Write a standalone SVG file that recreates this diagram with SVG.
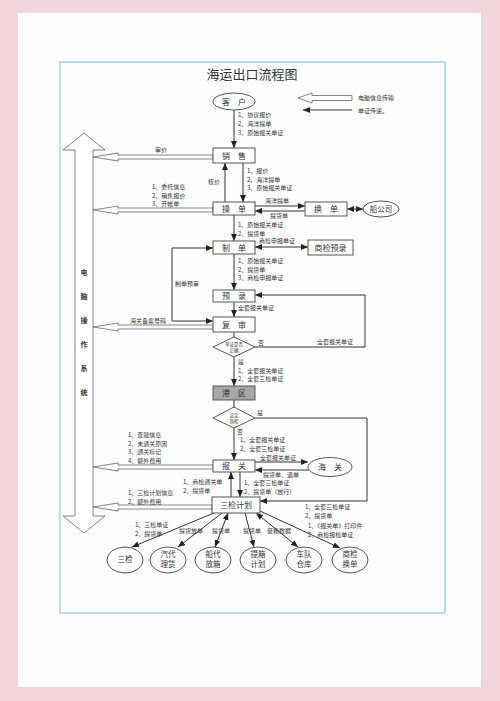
<svg xmlns="http://www.w3.org/2000/svg" width="500" height="701" viewBox="0 0 500 701">
<defs>
<marker id="a" markerUnits="userSpaceOnUse" markerWidth="7" markerHeight="6" refX="7" refY="3" orient="auto-start-reverse"><path d="M0,0 L7,3 L0,6 z" fill="#222"/></marker>
<style>
.t{font-family:"Noto Sans CJK SC","Noto Sans",sans-serif;fill:#333}
.s{font-size:6px}
.b{font-size:8px;text-anchor:middle}
.e{font-size:7.5px;text-anchor:middle}
.box{fill:#fff;stroke:#555;stroke-width:1}
.ln{fill:none;stroke:#333;stroke-width:1}
.ho{fill:#fff;stroke:#666;stroke-width:0.8}
</style>
</defs>
<rect x="0" y="0" width="500" height="701" fill="#f2d4db"/>
<rect x="18" y="13" width="463" height="674" fill="#fefefe"/>
<rect x="60" y="62" width="385" height="551" fill="none" stroke="#a9d2da" stroke-width="1.5"/>
<text class="t" x="252" y="79" font-size="13" text-anchor="middle">海运出口流程图</text>

<g id="legend">
<polygon class="ho" points="298,98 312,93 312,95.5 352,95.5 352,100.5 312,100.5 312,103"/>
<text class="t s" x="358" y="100">电脑信息传输</text>
<line class="ln" x1="352" y1="110" x2="303" y2="110" marker-end="url(#a)"/>
<text class="t s" x="358" y="113">单证传递。</text>
</g>

<g id="system">
<polygon class="ho" points="84,133 105,150 93,150 93,516 105,516 84,533 63,516 75,516 75,150 63,150"/>
<g class="t" font-size="7" font-weight="bold" text-anchor="middle">
<text x="84" y="275">电</text><text x="84" y="299">脑</text><text x="84" y="323">操</text><text x="84" y="347">作</text><text x="84" y="371">系</text><text x="84" y="395">统</text>
</g>
</g>

<g id="connectors">
<line class="ln" x1="234" y1="110" x2="234" y2="148" marker-end="url(#a)"/>
<line class="ln" x1="243" y1="163" x2="243" y2="202" marker-end="url(#a)"/>
<line class="ln" x1="225" y1="202" x2="225" y2="163" marker-end="url(#a)"/>
<line class="ln" x1="255" y1="206" x2="305" y2="206" marker-end="url(#a)"/>
<line class="ln" x1="305" y1="211" x2="255" y2="211" marker-end="url(#a)"/>
<line class="ln" x1="347" y1="209" x2="363" y2="209" marker-start="url(#a)" marker-end="url(#a)"/>
<line class="ln" x1="234" y1="215" x2="234" y2="241" marker-end="url(#a)"/>
<line class="ln" x1="255" y1="247" x2="308" y2="247" marker-start="url(#a)" marker-end="url(#a)"/>
<line class="ln" x1="234" y1="254" x2="234" y2="290" marker-end="url(#a)"/>
<line class="ln" x1="234" y1="302" x2="234" y2="317" marker-end="url(#a)"/>
<path class="ln" d="M213,248 H172 V321 H213" marker-start="url(#a)" marker-end="url(#a)"/>
<line class="ln" x1="234" y1="332" x2="234" y2="337"/>
<path class="ln" d="M255,347 H365 V295 H255" marker-end="url(#a)"/>
<line class="ln" x1="234" y1="357" x2="234" y2="386" marker-end="url(#a)"/>
<line class="ln" x1="234" y1="400" x2="234" y2="407"/>
<path class="ln" d="M255,418 H367 V501 H260" marker-end="url(#a)"/>
<line class="ln" x1="234" y1="428" x2="234" y2="460" marker-end="url(#a)"/>
<line class="ln" x1="255" y1="462" x2="308" y2="462" marker-end="url(#a)"/>
<line class="ln" x1="309" y1="470" x2="255" y2="470" marker-end="url(#a)"/>
<line class="ln" x1="240" y1="472" x2="240" y2="497" marker-end="url(#a)"/>
<line class="ln" x1="231" y1="497" x2="231" y2="472" marker-end="url(#a)"/>
<line class="ln" x1="214" y1="513" x2="132" y2="547" marker-end="url(#a)"/>
<line class="ln" x1="222" y1="513" x2="178" y2="547" marker-end="url(#a)"/>
<line class="ln" x1="228" y1="513" x2="215" y2="547" marker-start="url(#a)" marker-end="url(#a)"/>
<line class="ln" x1="245" y1="513" x2="254" y2="547" marker-end="url(#a)"/>
<line class="ln" x1="256" y1="513" x2="298" y2="547" marker-start="url(#a)" marker-end="url(#a)"/>
<line class="ln" x1="260" y1="511" x2="340" y2="548" marker-end="url(#a)"/>
<polygon class="ho" points="93,157 118,153 118,155 213,155 213,159 118,159 118,161"/>
<polygon class="ho" points="93,210 118,206 118,208 213,208 213,212 118,212 118,214"/>
<polygon class="ho" points="93,327 118,323 118,325 213,325 213,329 118,329 118,331"/>
<polygon class="ho" points="93,467 118,463 118,465 213,465 213,469 118,469 118,471"/>
<polygon class="ho" points="93,507 118,503 118,505 212,505 212,509 118,509 118,511"/>
</g>

<g id="labels" class="t s">
<text x="238" y="117">1、协议报价</text><text x="238" y="126">2、海洋提单</text><text x="238" y="135">3、原始报关单证</text>
<text x="155" y="152">审价</text>
<text x="247" y="173">1、报价</text><text x="247" y="181.5">2、海洋提单</text><text x="247" y="190">3、原始报关单证</text>
<text x="208" y="184">核价</text>
<text x="152" y="189">1、委托信息</text><text x="152" y="197.5">2、销售报价</text><text x="152" y="206">3、开帐单</text>
<text x="265" y="203">海洋提单</text><text x="270" y="218">提货单</text>
<text x="238" y="227">1、原始报关单证</text><text x="238" y="235.5">2、提货单</text>
<text x="259" y="243">商检申报单证</text>
<text x="238" y="263">1、原始报关单证</text><text x="238" y="271.5">2、提货单</text><text x="238" y="280">3、商检申报单证</text>
<text x="175" y="286">制单预审</text>
<text x="238" y="310">全套报关单证</text>
<text x="130" y="323">海关备案号码</text>
<text x="258" y="345">否</text>
<text x="317" y="344">全套报关单证</text>
<text x="238" y="364">是</text>
<text x="238" y="372.5">1、全套报关单证</text><text x="238" y="381">2、全套三检单证</text>
<text x="257" y="415">是</text>
<text x="237" y="434">否</text>
<text x="240" y="442">1、全套报关单证</text><text x="240" y="450.5">2、全套三检单证</text>
<text x="260" y="460">全套报关单证</text><text x="263" y="477">提货单、退单</text>
<text x="128" y="437">1、查验信息</text><text x="128" y="445.5">2、未通关原因</text><text x="128" y="454">3、通关标记</text><text x="128" y="462.5">4、额外费用</text>
<text x="183" y="484">1、商检通关单</text><text x="183" y="492.5">2、提货单</text>
<text x="244" y="485">1、全套三检单证</text><text x="244" y="493.5">2、提货单（放行）</text>
<text x="128" y="495">1、三检计划信息</text><text x="128" y="503.5">2、额外费用</text>
<text x="305" y="509">1、全套三检单证</text><text x="305" y="517.5">2、提货单</text>
<text x="135" y="527">1、三检单证</text><text x="135" y="535.5">2、提货单</text>
<text x="179" y="533">提货放单</text>
<text x="212" y="533">提货单</text>
<text x="243" y="533">提货单</text>
<text x="267" y="533">装箱数据</text>
<text x="308" y="528">1、《报关单》打印件</text><text x="308" y="536.5">2、商检报检单证</text>
</g>

<g id="kehu"><ellipse class="box" cx="234" cy="101.5" rx="21" ry="8.5"/><text class="t b" x="234" y="104.5">客　户</text></g>
<g id="xiaoshou"><rect class="box" x="213" y="148" width="42" height="15"/><text class="t b" x="234" y="158.5">销　售</text></g>
<g id="caodan"><rect class="box" x="213" y="202" width="42" height="13"/><text class="t b" x="234" y="211.5">操　单</text></g>
<g id="huandan"><rect class="box" x="305" y="202" width="42" height="14"/><text class="t b" x="326" y="212">换　单</text></g>
<g id="chuangongsi"><ellipse class="box" cx="381" cy="209" rx="18" ry="8"/><text class="t e" x="381" y="211.5">船公司</text></g>
<g id="zhidan"><rect class="box" x="213" y="241" width="42" height="13"/><text class="t b" x="234" y="250.5">制　单</text></g>
<g id="shangjianyulu"><rect class="box" x="308" y="240" width="45" height="15"/><text class="t b" x="330.5" y="250.5">商检预录</text></g>
<g id="yulu"><rect class="box" x="213" y="290" width="42" height="12"/><text class="t b" x="234" y="299">预　录</text></g>
<g id="fushen"><rect class="box" x="213" y="317" width="42" height="15"/><text class="t b" x="234" y="327.5">复　审</text></g>
<g id="d1"><polygon class="box" points="234,337 255,347 234,357 213,347"/><text class="t" font-size="4.5" text-anchor="middle" x="234" y="346">单证是否</text><text class="t" font-size="4.5" text-anchor="middle" x="234" y="352">正确</text></g>
<g id="gangqu"><rect x="213" y="386" width="42" height="14" fill="#a7a7a7" stroke="#555"/><text class="t b" x="234" y="396">港　区</text></g>
<g id="d2"><polygon class="box" points="234,407 255,418 234,428 213,418"/><text class="t" font-size="4.5" text-anchor="middle" x="234" y="417">法定</text><text class="t" font-size="4.5" text-anchor="middle" x="234" y="423">商检</text></g>
<g id="baoguan"><rect class="box" x="213" y="460" width="42" height="12"/><text class="t b" x="234" y="469">报　关</text></g>
<g id="haiguan"><ellipse class="box" cx="330" cy="467" rx="22" ry="9.5"/><text class="t b" x="330" y="470">海　关</text></g>
<g id="sanjianjihua"><rect class="box" x="212" y="497" width="48" height="16"/><text class="t b" x="236" y="508">三检计划</text></g>
<g id="sanjian"><ellipse class="box" cx="125" cy="560" rx="18" ry="13"/><text class="t e" x="125" y="562">三检</text></g>
<g id="qidai"><ellipse class="box" cx="168" cy="560" rx="18" ry="13"/><text class="t e" x="168" y="557">汽代</text><text class="t e" x="168" y="567">理货</text></g>
<g id="chuandai"><ellipse class="box" cx="213" cy="560" rx="18" ry="13"/><text class="t e" x="213" y="557">船代</text><text class="t e" x="213" y="567">放箱</text></g>
<g id="tixiang"><ellipse class="box" cx="258" cy="560" rx="18" ry="13"/><text class="t e" x="258" y="557">提箱</text><text class="t e" x="258" y="567">计划</text></g>
<g id="chedui"><ellipse class="box" cx="304" cy="560" rx="18" ry="13"/><text class="t e" x="304" y="557">车队</text><text class="t e" x="304" y="567">仓库</text></g>
<g id="shangjianhuandan"><ellipse class="box" cx="350" cy="560" rx="18" ry="13"/><text class="t e" x="350" y="557">商检</text><text class="t e" x="350" y="567">换单</text></g>
</svg>
